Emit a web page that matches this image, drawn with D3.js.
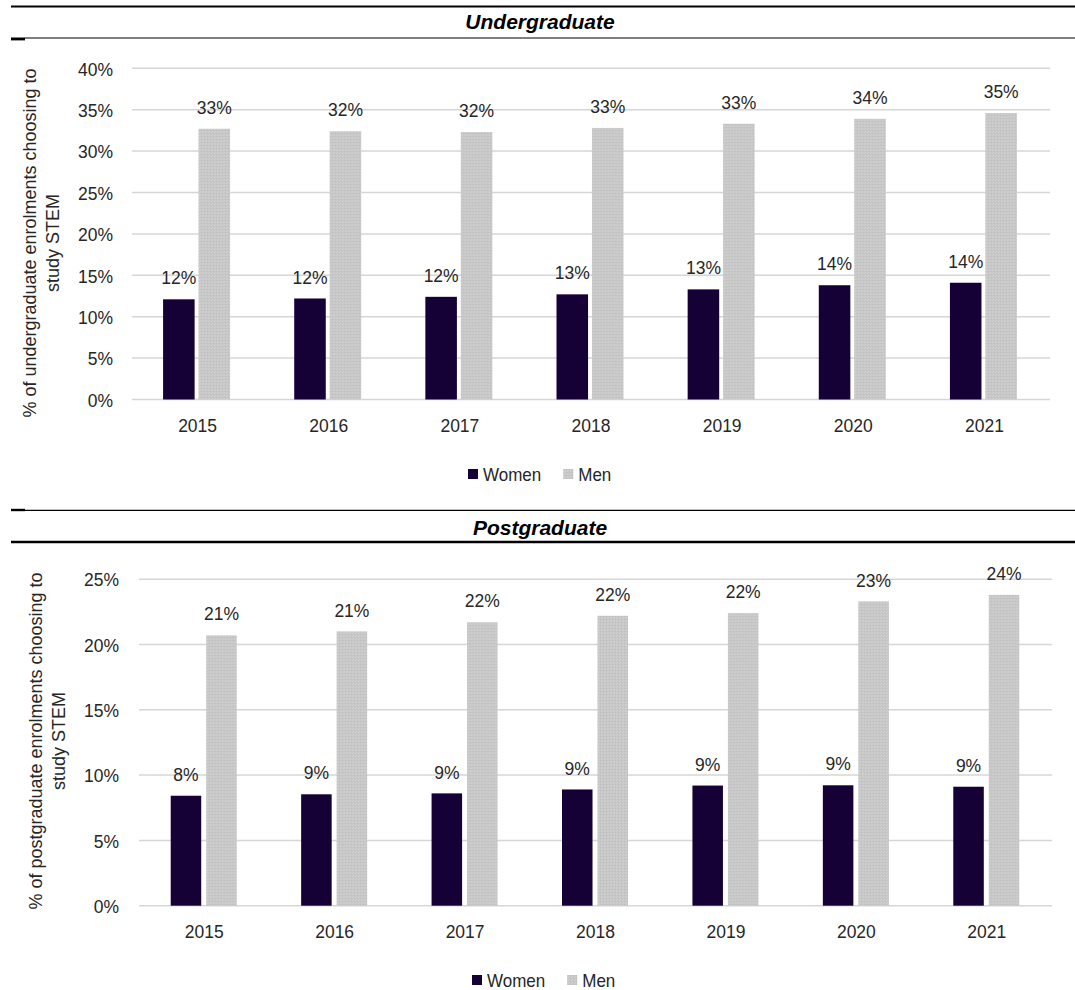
<!DOCTYPE html>
<html>
<head>
<meta charset="utf-8">
<script src="https://cdn.jsdelivr.net/npm/d3@7"></script>
<style>
  html, body { margin: 0; padding: 0; background: #fff; }
  svg { display: block; font-family: "Liberation Sans", Arial, sans-serif; }
  /* body text is set slightly tall and narrow */
  .tall { transform-box: fill-box; transform-origin: center; transform: scaleY(1.1); }
</style>
</head>
<body>
<svg id="chart" width="1075" height="990"></svg>
<script>
// Share of enrolments choosing STEM, by sex
const years = ["2015", "2016", "2017", "2018", "2019", "2020", "2021"];
const seriesNames = ["Women", "Men"];

const ugWomen = [12.1, 12.2, 12.4, 12.7, 13.3, 13.8, 14.1];
const ugMen   = [32.7, 32.4, 32.3, 32.8, 33.3, 33.9, 34.6];
const ugTicks = [0, 5, 10, 15, 20, 25, 30, 35, 40];

const pgWomen = [8.42, 8.53, 8.6, 8.9, 9.2, 9.22, 9.11];
const pgMen   = [20.7, 21.0, 21.7, 22.2, 22.4, 23.3, 23.8];
const pgTicks = [0, 5, 10, 15, 20, 25];

const svg = d3.select("#chart");
const W = 1075;
const colors = { Women: "#160137", Men: "url(#menFill)" };
const textColor = "#262626";

// speckled light-grey fill for the Men bars
const defs = svg.append("defs");
const pat = defs.append("pattern").attr("id", "menFill")
  .attr("width", 3).attr("height", 3).attr("patternUnits", "userSpaceOnUse");
pat.append("rect").attr("width", 3).attr("height", 3).attr("fill", "#c7c7c7");
pat.append("rect").attr("x", 0).attr("y", 0).attr("width", 1).attr("height", 1).attr("fill", "#d3d3d3");
pat.append("rect").attr("x", 2).attr("y", 1).attr("width", 1).attr("height", 1).attr("fill", "#bdbdbd");
pat.append("rect").attr("x", 1).attr("y", 2).attr("width", 1).attr("height", 1).attr("fill", "#d0d0d0");

function rule(y, w) {
  svg.append("line").attr("x1", 11).attr("x2", W).attr("y1", y).attr("y2", y)
    .attr("stroke", "#000").attr("stroke-width", w);
}
function stub(y) {
  svg.append("line").attr("x1", 11).attr("x2", 25).attr("y1", y).attr("y2", y)
    .attr("stroke", "#000").attr("stroke-width", 2.4);
}

function panel(cfg) {
  const g = svg.append("g");
  const women = cfg.women, men = cfg.men;
  const data = years.map((y, i) => ({ year: y, Women: women[i], Men: men[i] }));

  // panel heading
  g.append("text").attr("x", 540).attr("y", cfg.titleY)
    .attr("text-anchor", "middle").attr("font-size", 21).attr("font-weight", "bold")
    .attr("font-style", "italic").attr("fill", "#000").text(cfg.title);

  const y = d3.scaleLinear().domain([0, cfg.max]).range([cfg.y0, cfg.yTop]);
  const x = d3.scaleBand().domain(years).range([cfg.x0, cfg.x1]).padding(0);
  const groupW = cfg.groupW;
  const xs = d3.scaleBand().domain(seriesNames).range([0, groupW]).paddingInner(cfg.innerPad);

  // gridlines
  g.append("g").selectAll("line").data(cfg.ticks).join("line")
    .attr("x1", cfg.x0).attr("x2", cfg.x1)
    .attr("y1", d => y(d)).attr("y2", d => y(d))
    .attr("stroke", "#d6d6d6").attr("stroke-width", 1.5);

  // y axis labels
  const yAxis = d3.axisLeft(y).tickValues(cfg.ticks).tickFormat(d => d + "%").tickSize(0).tickPadding(0);
  const ya = g.append("g").attr("transform", `translate(${cfg.tickX},0)`).call(yAxis);
  ya.select(".domain").remove();
  ya.selectAll("text").attr("class", "tall").attr("font-size", 17.5).attr("fill", textColor)
    .attr("font-family", "Liberation Sans, Arial, sans-serif").attr("dy", "0.35em");

  // x axis labels
  const xAxis = d3.axisBottom(x).tickSize(0).tickPadding(0);
  const xa = g.append("g").attr("transform", `translate(0,${cfg.xLabelY})`).call(xAxis);
  xa.select(".domain").remove();
  xa.selectAll("text").attr("class", "tall").attr("font-size", 17.5).attr("fill", textColor)
    .attr("font-family", "Liberation Sans, Arial, sans-serif").attr("dy", "0.35em");

  // bars
  const groups = g.append("g").selectAll("g").data(data).join("g")
    .attr("transform", d => `translate(${x(d.year) + (x.bandwidth() - groupW) / 2 + cfg.shift},0)`);
  groups.selectAll("rect").data(d => seriesNames.map(s => ({ s, v: d[s] }))).join("rect")
    .attr("x", d => xs(d.s)).attr("width", xs.bandwidth())
    .attr("y", d => y(d.v)).attr("height", d => y(0) - y(d.v))
    .attr("fill", d => colors[d.s]);
  groups.selectAll("text").data(d => seriesNames.map(s => ({ s, v: d[s] }))).join("text")
    .attr("class", "tall")
    .attr("x", d => xs(d.s) + xs.bandwidth() / 2)
    .attr("y", d => y(d.v) - 15.5)
    .attr("text-anchor", "middle").attr("font-size", 17.5).attr("fill", textColor)
    .text(d => d3.format(".0f")(d.v) + "%");

  // axis title (two lines, rotated)
  const t = g.append("g").attr("transform", `translate(${cfg.titleX},${cfg.titleMid}) rotate(-90)`)
    .append("text")
    .attr("text-anchor", "middle").attr("font-size", 18).attr("fill", textColor);
  t.append("tspan").attr("x", 0).attr("y", 0).text(cfg.axisTitle[0]);
  t.append("tspan").attr("x", 0).attr("y", 23).text(cfg.axisTitle[1]);

  // legend
  const lg = g.append("g").attr("transform", `translate(${cfg.legendX},${cfg.legendY})`);
  let off = 0;
  seriesNames.forEach((s, i) => {
    lg.append("rect").attr("x", off).attr("y", -5).attr("width", 10).attr("height", 10).attr("fill", colors[s]);
    const tx = lg.append("text").attr("class", "tall").attr("x", off + 15).attr("y", 0).attr("dy", "0.35em")
      .attr("font-size", 17).attr("fill", textColor).text(s);
    off += 15 + tx.node().getComputedTextLength() + 22;
  });
}

// Undergraduate block
rule(6.5, 2);
rule(38, 1.2);
stub(39.2);
panel({
  title: "Undergraduate", titleY: 29,
  women: ugWomen, men: ugMen, ticks: ugTicks, max: 40,
  x0: 132, x1: 1050, y0: 399.5, yTop: 68.3,
  groupW: 67, innerPad: 0.11, shift: -1,
  tickX: 113, xLabelY: 425,
  axisTitle: ["% of undergraduate enrolments choosing to", "study STEM"],
  titleX: 36, titleMid: 243,
  legendX: 468, legendY: 474
});

// Postgraduate block
rule(510.3, 1.2);
stub(510);
rule(542, 2.4);
panel({
  title: "Postgraduate", titleY: 535,
  women: pgWomen, men: pgMen, ticks: pgTicks, max: 25,
  x0: 139, x1: 1052, y0: 905.7, yTop: 579.2,
  groupW: 66, innerPad: 0.14, shift: -0.5,
  tickX: 119, xLabelY: 931.5,
  axisTitle: ["% of postgraduate enrolments choosing to", "study STEM"],
  titleX: 42, titleMid: 741,
  legendX: 472, legendY: 980
});
</script>
</body>
</html>
